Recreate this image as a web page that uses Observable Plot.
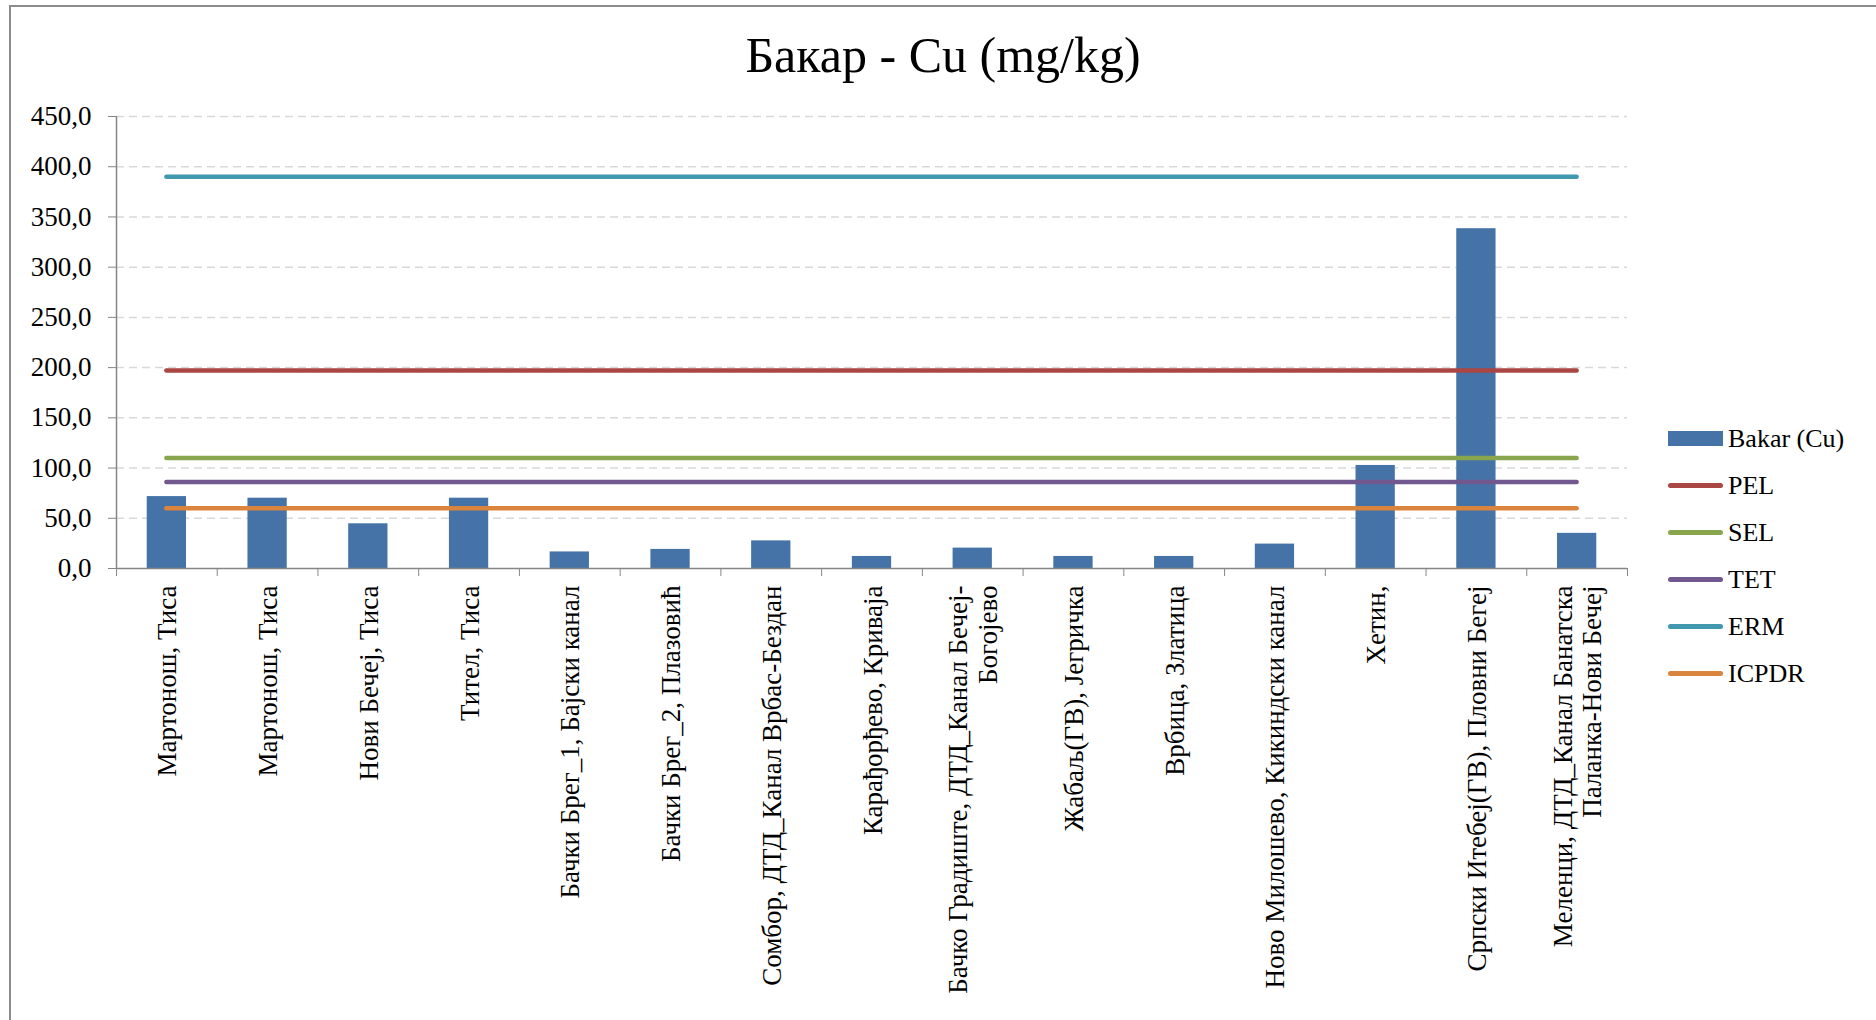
<!DOCTYPE html>
<html>
<head>
<meta charset="utf-8">
<script src="https://cdn.jsdelivr.net/npm/d3@7"></script>
<script src="https://cdn.jsdelivr.net/npm/@observablehq/plot@0.6"></script>
<style>
  html, body { margin: 0; padding: 0; background: #fff; }
  #wrap { position: relative; width: 1876px; height: 1020px; overflow: hidden; font-family: "Liberation Serif", serif; color: #000; }
  #frame { position: absolute; left: 9px; top: 5px; right: -10px; bottom: -10px; border-left: 2px solid #8c8c8c; border-top: 2px solid #8c8c8c; pointer-events: none; }
  #title { height: 96px; box-sizing: border-box; padding-top: 30px; padding-left: 10px; text-align: center; font-size: 50px; line-height: 1; }
  #chart svg { display: block; }
  #legend { position: absolute; left: 1668px; top: 415px; }
  .item { display: flex; align-items: center; height: 47px; font-size: 26px; white-space: nowrap; }
  .sw { width: 55px; margin-right: 5px; }
  .sw.line { height: 5px; border-radius: 3px; }
  .sw.bar { height: 15px; }
</style>
</head>
<body>
<div id="wrap">
  <div id="frame"></div>
  <div id="title"></div>
  <div id="chart"></div>
  <div id="legend"></div>
</div>
<script>
// ---- data ----
const chartTitle = "Бакар - Cu (mg/kg)";
const categories = [
  "Мартонош, Тиса",
  "Мартонош, Тиса",
  "Нови Бечеј, Тиса",
  "Тител, Тиса",
  "Бачки Брег_1, Бајски канал",
  "Бачки Брег_2, Плазовић",
  "Сомбор, ДТД_Канал Врбас-Бездан",
  "Карађорђево, Криваја",
  "Бачко Градиште, ДТД_Канал Бечеј-\nБогојево",
  "Жабаљ(ГВ), Јегричка",
  "Врбица, Златица",
  "Ново Милошево, Кикиндски канал",
  "Хетин,",
  "Српски Итебеј(ГВ), Пловни Бегеј",
  "Меленци, ДТД_Канал Банатска\nПаланка-Нови Бечеј"
];
const barSeriesName = "Bakar (Cu)";
const copper = [71.6, 70, 44.5, 70, 16.5, 19, 27.5, 12, 20.3, 12, 12, 24.3, 102.6, 338.3, 35];
const thresholdNames = ["PEL", "SEL", "TET", "ERM", "ICPDR"];
const thresholdValues = [197, 110, 86, 390, 60];
const yTicks = [0, 50, 100, 150, 200, 250, 300, 350, 400, 450];

// ---- styles ----
const barColor = "#4673a7";
const thresholdColors = ["#aa4643", "#89a54e", "#71588f", "#4198af", "#db843d"];
const axisColor = "#868686";

// ---- build ----
const n = categories.length;
const rows = categories.map((label, i) => ({i, label, value: copper[i]}));
const thresholds = thresholdNames.map((name, k) => ({name, value: thresholdValues[k]}));
const fmt = d => d.toFixed(1).replace(".", ",");

document.getElementById("title").textContent = chartTitle;

const chart = Plot.plot({
  width: 1876,
  height: 924,
  marginTop: 20,
  marginBottom: 452,
  marginLeft: 116,
  marginRight: 249,
  style: {fontFamily: "Liberation Serif", background: "transparent", color: "#000", overflow: "visible"},
  x: {type: "linear", domain: [0, n], axis: null},
  y: {domain: [0, 450], axis: null},
  color: {domain: thresholdNames, range: thresholdColors},
  marks: [
    Plot.ruleY(yTicks.filter(t => t > 0), {stroke: "#d9d9d9", strokeWidth: 1.5, strokeDasharray: "8,5"}),
    Plot.rectY(rows, {x1: d => d.i + 0.305, x2: d => d.i + 0.695, y1: 0, y2: "value", fill: barColor}),
    Plot.ruleY(thresholds, {y: "value", x1: 0.5, x2: n - 0.5, stroke: "name", strokeWidth: 4.5, strokeLinecap: "round"}),
    Plot.ruleX([0], {stroke: axisColor, strokeWidth: 1.5}),
    Plot.ruleY([0], {stroke: axisColor, strokeWidth: 1.5}),
    Plot.axisY({ticks: yTicks, tickFormat: fmt, tickSize: 8, tickPadding: 17, fontSize: 27, stroke: axisColor, fill: "#000", label: null}),
    Plot.axisX({ticks: d3.range(n + 1), tickFormat: () => "", tickSize: 8, stroke: axisColor, label: null}),
    Plot.axisX({
      ticks: rows.map(d => d.i + 0.5),
      tickFormat: t => categories[Math.floor(t)],
      tickSize: 0, tickPadding: 17, tickRotate: -90,
      fontSize: 27, lineHeight: 1.1, textAnchor: "end", lineAnchor: "middle", fill: "#000", label: null
    })
  ]
});
document.getElementById("chart").appendChild(chart);

// ---- legend ----
const legend = document.getElementById("legend");
const legendItems = [{name: barSeriesName, color: barColor, kind: "bar"}]
  .concat(thresholdNames.map((name, k) => ({name, color: thresholdColors[k], kind: "line"})));
for (const it of legendItems) {
  const row = document.createElement("div");
  row.className = "item";
  const sw = document.createElement("div");
  sw.className = "sw " + it.kind;
  sw.style.background = it.color;
  const tx = document.createElement("span");
  tx.textContent = it.name;
  row.appendChild(sw);
  row.appendChild(tx);
  legend.appendChild(row);
}
</script>
</body>
</html>
